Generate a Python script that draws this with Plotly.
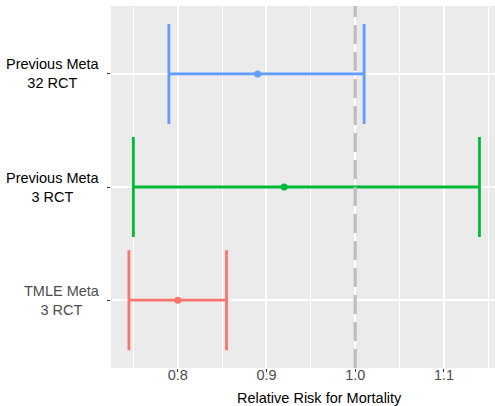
import plotly.graph_objects as go

# Data (bottom to top)
labels = ["TMLE Meta<br>3 RCT", "Previous Meta<br>3 RCT", "Previous Meta<br>32 RCT"]
label_colors = ["#4D4D4D", "#000000", "#000000"]
estimate = [0.80, 0.92, 0.89]
lower = [0.745, 0.75, 0.79]
upper = [0.855, 1.14, 1.01]
colors = ["#F8766D", "#00BA38", "#619CFF"]
x_ticks = [0.8, 0.9, 1.0, 1.1]
x_tick_labels = ["0.8", "0.9", "1.0", "1.1"]
ref_value = 1.0
x_title = "Relative Risk for Mortality"

FONT = "Liberation Sans, Arial, Helvetica, sans-serif"

fig = go.Figure()
for lab, est, lo, hi, col in zip(labels, estimate, lower, upper, colors):
    fig.add_trace(go.Scatter(
        x=[est], y=[lab], mode="markers",
        marker=dict(color=col, size=7),
        error_x=dict(type="data", symmetric=False,
                     array=[hi - est], arrayminus=[est - lo],
                     color=col, thickness=2.8, width=50),
        showlegend=False, hoverinfo="skip",
    ))

fig.add_shape(type="line", xref="x", yref="paper",
              x0=ref_value, x1=ref_value, y0=0, y1=1,
              line=dict(color="#BEBEBE", width=3.2, dash="19px,8px"),
              layer="above")

for lab, lc in zip(labels, label_colors):
    fig.add_annotation(xref="paper", yref="y", x=0, y=lab, xanchor="right",
                       yanchor="middle", xshift=-9, align="center",
                       text=lab, showarrow=False,
                       font=dict(family=FONT, size=14.5, color=lc))

fig.add_annotation(xref="paper", yref="paper", x=0.5417, y=0,
                   xanchor="center", yanchor="top", yshift=-20, text=x_title,
                   showarrow=False, font=dict(family=FONT, size=14.5, color="#000000"))

fig.update_layout(
    width=495, height=406,
    margin=dict(l=111, r=0, t=6, b=38),
    paper_bgcolor="white", plot_bgcolor="#EBEBEB",
    font=dict(family=FONT, size=14.5, color="#4D4D4D"),
)
fig.update_xaxes(
    range=[0.7248, 1.1575], tickvals=x_ticks, ticktext=x_tick_labels,
    showgrid=True, gridcolor="white", gridwidth=1.6,
    zeroline=False, showline=False,
    ticks="outside", ticklen=3, tickcolor="#333333", tickwidth=1,
    ticklabelstandoff=-9,
    tickfont=dict(family=FONT, size=14.5, color="#4D4D4D"),
    minor=dict(dtick=0.05, tick0=0.75, showgrid=True, gridcolor="white", gridwidth=0.8, ticks=""),
)
fig.update_yaxes(
    type="category", categoryorder="array", categoryarray=labels,
    range=[-0.6, 2.6], showticklabels=False,
    showgrid=True, gridcolor="white", gridwidth=1.6,
    zeroline=False, showline=False,
    ticks="outside", ticklen=3, tickcolor="#333333", tickwidth=1,
)

fig.write_html("out.html", config={"displayModeBar": False},
               post_script="document.body.style.margin='0';document.body.style.overflow='hidden';")
